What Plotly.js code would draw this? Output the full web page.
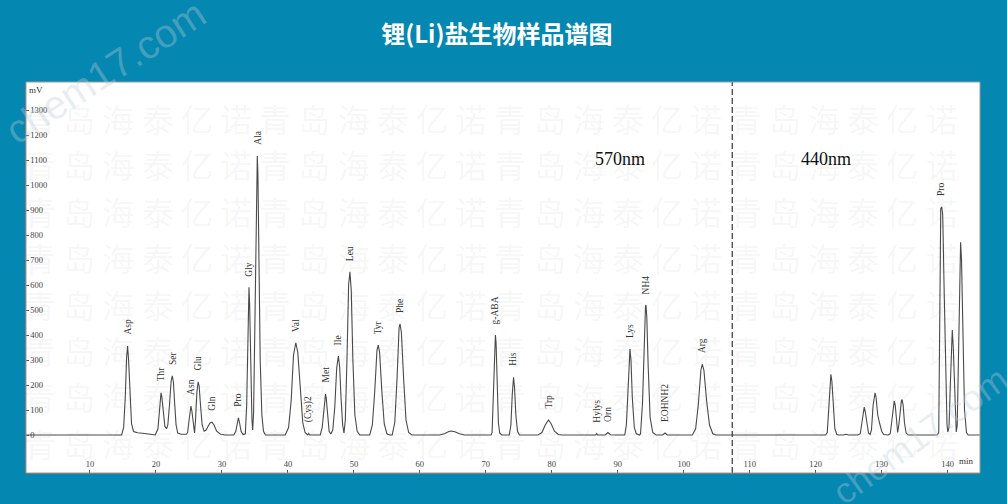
<!DOCTYPE html>
<html>
<head>
<meta charset="utf-8">
<script src="https://cdn.plot.ly/plotly-3.0.1.min.js"></script>
<style>html,body{margin:0;padding:0;background:#0487b0;}#chart{width:1007px;height:504px;}</style>
</head>
<body>
<div id="chart"></div>
<script>
// ---- data ----
const timeMin = [
  0.3, 14.7,
  14.8, 15.1, 15.35, 15.55, 15.7, 15.85, 16.05, 16.3, 16.6, 17.2, 18.3, 19.2, 19.7,
  19.9, 20.3, 20.5, 20.65, 20.77, 20.9, 21.1, 21.35, 21.6,
  21.8, 22.05, 22.3, 22.48, 22.65, 22.85, 23.05, 23.3, 23.8, 24.6,
  24.8, 25.0, 25.18, 25.3, 25.45, 25.65, 25.85,
  26.0, 26.2, 26.4, 26.55, 26.75, 27.0, 27.3, 27.6,
  27.9, 28.2, 28.5, 28.8, 29.2, 29.8, 30.5,
  31.8, 32.1, 32.3, 32.5, 32.7, 32.9, 33.2,
  33.55, 33.75, 33.92, 34.05, 34.1, 34.2, 34.35, 34.55, 34.66,
  34.8, 35.0, 35.2, 35.3, 35.36, 35.45, 35.6, 35.8, 36.05, 36.3, 36.6,
  39.3,
  39.6, 40.1, 40.5, 40.85, 41.2, 41.5, 41.85, 42.25, 42.6, 42.9,
  43.0, 43.15, 43.3, 44.3,
  44.9, 45.2, 45.45, 45.6, 45.7, 45.8, 46.0, 46.25, 46.5,
  46.8, 47.1, 47.4, 47.65, 47.85, 48.05, 48.3, 48.5,
  48.7, 48.95, 49.2, 49.4, 49.6, 49.85, 50.15, 50.5, 50.9,
  52.4, 52.8, 53.15, 53.5, 53.7, 53.9, 54.25, 54.6, 55.0, 55.4,
  55.8, 56.2, 56.55, 56.85, 57.0, 57.2, 57.55, 57.9, 58.3, 58.8,
  63.0, 63.8, 64.4, 64.8, 65.3, 66.0, 66.8,
  68.0, 68.3, 68.6, 69.3, 69.6, 69.9, 70.8,
  70.95, 71.1, 71.3, 71.45, 71.55, 71.7, 71.9, 72.1, 72.4,
  73.55, 73.8, 74.0, 74.2, 74.35, 74.55, 74.8, 75.1,
  77.9, 78.5, 79.0, 79.5, 79.9, 80.4, 81.0, 81.5,
  86.65, 86.8, 86.95,
  88.1, 88.5, 88.9, 89.5,
  91.05, 91.3, 91.55, 91.75, 91.85, 92.0, 92.2, 92.5, 92.8, 93.3,
  93.45, 93.75, 94.0, 94.2, 94.27, 94.4, 94.6, 94.9, 95.3, 95.8,
  96.8, 97.15, 97.5,
  101.3, 101.8, 102.2, 102.6, 102.8, 103.05, 103.45, 103.9, 104.4, 104.9,
  121.5,
  121.75, 121.95, 122.15, 122.3, 122.45, 122.65, 122.9, 123.2, 123.5,
  124.2, 124.6, 125.0, 126.4,
  126.75, 126.95, 127.2, 127.35, 127.5, 127.75, 128.0, 128.25,
  128.45, 128.7, 128.9, 129.0, 129.15, 129.4, 129.7, 130.0, 130.3, 131.0,
  131.3, 131.55, 131.75, 131.9, 132.05, 132.25, 132.42,
  132.6, 132.85, 133.0, 133.1, 133.25, 133.45, 133.7, 134.0,
  138.4,
  138.65, 138.75, 138.85, 138.95, 139.1, 139.25, 139.45, 139.7, 139.9, 140.02,
  140.2, 140.4, 140.6, 140.7, 140.85, 141.05, 141.3,
  141.45, 141.65, 141.85, 141.96, 142.1, 142.3, 142.55, 142.85, 143.1, 144.9
];
const signalMv = [
  0, 0,
  0, 30, 150, 310, 356, 300, 150, 45, 14, 9, 6, 3, 0,
  0, 25, 90, 155, 169, 150, 85, 35, 25,
  40, 120, 215, 237, 210, 120, 40, 8, 3, 3,
  10, 55, 105, 116, 95, 40, 8,
  60, 170, 213, 195, 120, 40, 15, 20,
  35, 48, 51, 40, 15, 3, 0,
  0, 15, 45, 69, 45, 15, 2,
  5, 120, 420, 580, 591, 520, 280, 60, 20,
  90, 450, 950, 1100, 1116, 1050, 700, 300, 80, 15, 0,
  0,
  0, 30, 140, 320, 369, 330, 180, 50, 10, 2,
  0, 6, 0, 0,
  0, 30, 110, 160, 164, 150, 80, 15, 4,
  20, 110, 270, 316, 270, 150, 40, 8,
  60, 300, 600, 653, 580, 300, 80, 15, 0,
  0, 40, 170, 340, 360, 330, 170, 45, 5, 0,
  0, 50, 230, 430, 444, 410, 220, 60, 10, 0,
  0, 6, 14, 16, 13, 5, 0,
  0, 3, 0, 0, 3, 0, 0,
  10, 120, 340, 400, 370, 200, 50, 8, 0,
  0, 40, 160, 231, 190, 80, 15, 0,
  0, 10, 40, 60, 45, 15, 2, 0,
  0, 6, 0,
  0, 10, 1, 0,
  0, 40, 190, 330, 344, 300, 150, 30, 5, 0,
  5, 130, 380, 515, 520, 470, 280, 70, 10, 0,
  0, 8, 0,
  0, 25, 120, 260, 283, 260, 140, 40, 5, 0,
  0,
  10, 90, 210, 243, 215, 110, 25, 2, 0,
  0, 3, 0, 0,
  5, 40, 100, 111, 95, 40, 8, 2,
  20, 120, 165, 169, 150, 80, 45, 15, 2, 0,
  5, 60, 125, 136, 120, 50, 10,
  40, 120, 140, 140, 120, 50, 8, 0,
  0,
  10, 300, 850, 905, 913, 880, 600, 200, 40, 12,
  30, 200, 400, 420, 350, 150, 12,
  40, 350, 720, 771, 700, 400, 100, 10, 0, 0
];
const peakNames  = ['Asp','Thr','Ser','Asn','Glu','Gln','Pro','Gly','Ala','Val','(Cys)2','Met','Ile','Leu','Tyr','Phe','g-ABA','His','Trp','Hylys','Orn','Lys','NH4','EOHNH2','Arg','Pro'];
const peakTimes  = [15.7, 20.77, 22.48, 25.3, 26.4, 28.5, 32.5, 34.1, 35.36, 41.2, 43.15, 45.7, 47.65, 49.4, 53.7, 57.0, 71.45, 74.2, 79.5, 86.8, 88.5, 91.85, 94.27, 97.15, 102.8, 139.1];
const peakHeights= [356, 169, 237, 116, 213, 51, 69, 591, 1116, 369, 6, 164, 316, 653, 360, 444, 400, 231, 60, 6, 10, 344, 520, 8, 283, 913];
const xTickVals = [10,20,30,40,50,60,70,80,90,100,110,120,130,140];
const yTickVals = [-100,0,100,200,300,400,500,600,700,800,900,1000,1100,1200,1300];
const detectorSwitchMin = 107.35;
const wavelengthLabels = ['570nm','440nm'];
const wavelengthX = [90.3, 121.5];
const wavelengthY = [1105, 1105];
const titleText = '锂(Li)盐生物样品谱图';
const watermarkChars = ['青','岛','海','泰','亿','诺'];

// ---- figure ----
const serif = 'Liberation Serif, Times New Roman, serif';
const annotations = [];

// faint background watermark grid
for (let r = 0; r < 8; r++) {
  for (let c = 0; c < 24; c++) {
    annotations.push({
      xref: 'paper', yref: 'paper',
      x: (40 + c * 39.2 - 26) / 954,
      y: 1 - ((118 + r * 46.4) - 82) / 391,
      text: watermarkChars[c % 6], showarrow: false,
      xanchor: 'center', yanchor: 'middle',
      font: {family: 'Noto Sans CJK SC', size: 32, color: 'rgba(0,0,0,0.05)'}
    });
  }
}
// chem17 watermarks
annotations.push({xref:'paper', yref:'paper', x:(105-26)/954, y:1-(72-82)/391, xanchor:'center', yanchor:'middle', text:'chem17.com', showarrow:false, textangle:-33, font:{family:'Liberation Sans', size:40, color:'rgba(190,205,215,0.35)'}});
annotations.push({xref:'paper', yref:'paper', x:(920-26)/954, y:1-(435-82)/391, xanchor:'center', yanchor:'middle', text:'chem17.com', showarrow:false, textangle:-36, font:{family:'Liberation Sans', size:36, color:'rgba(190,205,215,0.35)'}});

// peak labels
peakNames.forEach((n, i) => {
  annotations.push({
    x: peakTimes[i], y: peakHeights[i], text: n, showarrow: false,
    textangle: -90, xanchor: 'center', yanchor: 'bottom', yshift: 9,
    font: {family: serif, size: 9.5, color: '#333'}
  });
});
// wavelength labels
wavelengthLabels.forEach((t, i) => {
  annotations.push({
    x: wavelengthX[i], y: wavelengthY[i], text: t, showarrow: false,
    xanchor: 'center', yanchor: 'middle',
    font: {family: serif, size: 18, color: '#111'}
  });
});
// axis unit labels
annotations.push({xref:'paper', yref:'paper', x:0, y:1, xanchor:'left', yanchor:'top', xshift:1, yshift:-1, text:'mV', showarrow:false, font:{family:serif, size:9, color:'#333'}});
annotations.push({xref:'paper', yref:'paper', x:1, y:0, xanchor:'right', yanchor:'bottom', xshift:-4, yshift:5, text:'min', showarrow:false, font:{family:serif, size:9, color:'#333'}});

const trace = {
  x: timeMin, y: signalMv, type: 'scatter', mode: 'lines',
  line: {color: '#4a4a4a', width: 1.1}, hoverinfo: 'skip'
};

const layout = {
  width: 1007, height: 504,
  paper_bgcolor: '#0487b0', plot_bgcolor: '#ffffff',
  margin: {l: 26, r: 27, t: 82, b: 31, pad: 0},
  showlegend: false,
  title: {
    text: '<b>' + titleText + '</b>',
    x: 0.4935, xanchor: 'center', xref: 'paper',
    y: 1 - 35 / 504, yanchor: 'middle', yref: 'container',
    font: {family: 'Noto Sans CJK SC', size: 24, color: '#ffffff'}
  },
  xaxis: {
    range: [0.303, 144.9], tickvals: xTickVals,
    ticks: 'inside', ticklen: 3, tickcolor: '#555',
    ticklabelposition: 'inside',
    tickfont: {family: serif, size: 8.5, color: '#444'},
    showgrid: false, zeroline: false,
    showline: true, linecolor: '#666', linewidth: 1
  },
  yaxis: {
    range: [-152, 1412], tickvals: yTickVals,
    ticks: 'inside', ticklen: 3, tickcolor: '#555',
    ticklabelposition: 'inside',
    tickfont: {family: serif, size: 8.5, color: '#444'},
    showgrid: false, zeroline: false,
    showline: true, linecolor: '#666', linewidth: 1
  },
  shapes: [
    {type: 'line', xref: 'x', yref: 'paper', x0: detectorSwitchMin, x1: detectorSwitchMin, y0: 0, y1: 1,
     line: {color: '#444', width: 1.3, dash: '6px,3px'}},
    {type: 'rect', xref: 'paper', yref: 'paper', x0: 0, x1: 1, y0: 0, y1: 1,
     line: {color: '#9a9a9a', width: 1}}
  ],
  annotations: annotations
};

Plotly.newPlot('chart', [trace], layout, {displayModeBar: false, staticPlot: true});
</script>
</body>
</html>
